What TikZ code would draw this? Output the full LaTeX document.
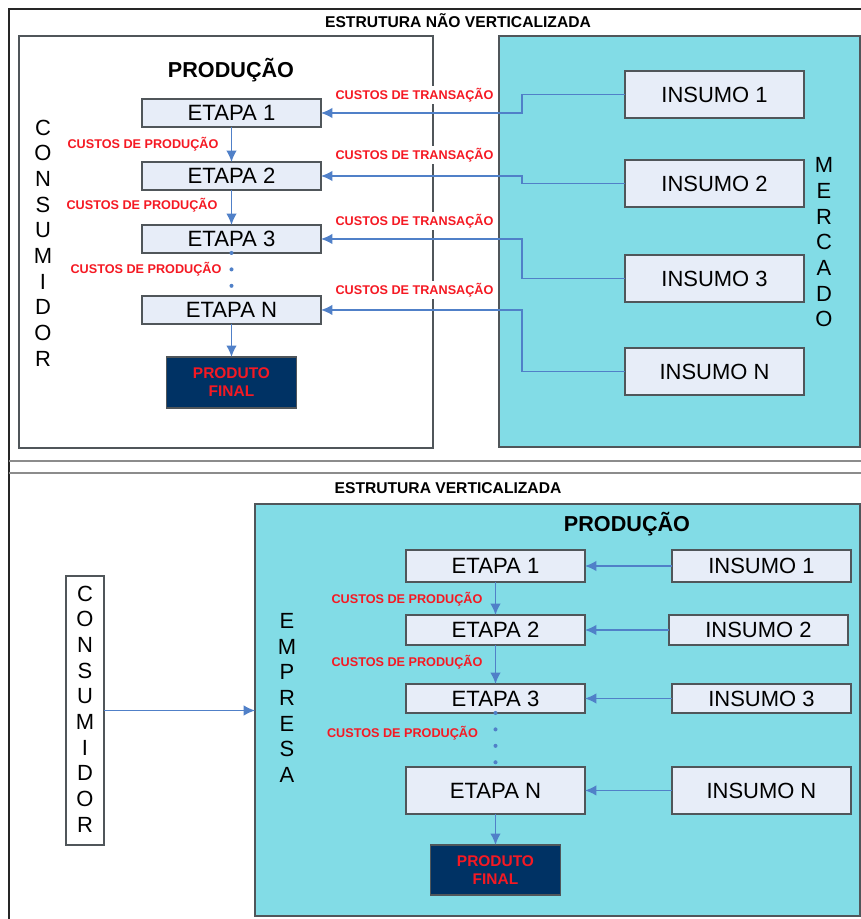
\documentclass[tikz,border=0pt]{standalone}
\usepackage{fontspec}
\setmainfont{Liberation Sans}
\usetikzlibrary{positioning,arrows.meta}
\definecolor{mktcyan}{RGB}{130,220,230}
\definecolor{stepfill}{RGB}{231,237,248}
\definecolor{stepline}{RGB}{80,86,90}
\definecolor{navyfinal}{RGB}{0,50,100}
\definecolor{costred}{RGB}{245,25,35}
\definecolor{flowblue}{RGB}{80,128,200}
\tikzset{stage node/.style={draw=stepline,fill=stepfill,line width=0.8pt,minimum width=3.58cm,minimum height=0.56cm,inner sep=0pt,outer sep=0pt,font=\fontsize{12.6}{14}\selectfont},
         input node/.style={stage node,minimum height=0.94cm,font=\fontsize{12.5}{15}\selectfont},
         final node/.style={draw=stepline,fill=navyfinal,text=costred,line width=0.8pt,align=center,minimum width=2.6cm,minimum height=1.02cm,inner sep=0pt,outer sep=0pt,font=\bfseries\fontsize{8.8}{10.4}\selectfont},
         panel node/.style={draw=stepline,line width=0.8pt,inner sep=0pt,outer sep=0pt},
         cost label/.style={text=costred,inner sep=1pt,font=\bfseries\fontsize{7.2}{9}\selectfont},
         title label/.style={font=\bfseries\fontsize{8.9}{10}\selectfont},
         head label/.style={font=\bfseries\fontsize{12.3}{14}\selectfont},
         stack label/.style={align=center,inner sep=0pt,font=\fontsize{12.5}{14.6}\selectfont},
         flow/.style={draw=flowblue,line width=0.85pt,-{Latex[length=6.5pt,width=6pt]}},
         gap dots/.style={draw=flowblue,line width=2.3pt,line cap=round,dash pattern=on 0pt off 9.35pt},}
\begin{document}
\begin{tikzpicture}[x=0.02cm,y=-0.02cm]
       \useasboundingbox (0,0) rectangle (861,919);
       % frame
       \draw[line width=1.3pt,black!85] (9,919) -- (9,9) -- (861,9);
       \draw[line width=1pt,black!45] (9,461) -- (861,461) (9,473) -- (861,473);

       % estrutura nao verticalizada
       \node[title label] (t1) at (458,21) {ESTRUTURA NÃO VERTICALIZADA};
       \node[panel node,fill=white,minimum width=8.28cm,minimum height=8.24cm] (prod) at (226,242) {};
       \node[panel node,fill=mktcyan,minimum width=7.22cm,minimum height=8.22cm] (merc) at (679.5,241.5) {};
       \node[head label] (h1) at (231,70) {PRODUÇÃO};
       \node[stack label] (cons) at (43,243) {C\\O\\N\\S\\U\\M\\I\\D\\O\\R};
       \node[stack label] (mkt) at (824,242.5) {M\\E\\R\\C\\A\\D\\O};

       \node[stage node] (et1) at (231.5,113) {ETAPA 1};
       \node[stage node] (et2) [below = 0.7cm of et1] {ETAPA 2};
       \node[stage node] (et3) [below = 0.7cm of et2] {ETAPA 3};
       \node[stage node] (etN) [below = 0.86cm of et3] {ETAPA N};
       \node[final node] (fin) [below = 0.66cm of etN] {PRODUTO\\FINAL};

       \node[input node] (in1) at (714.5,94.5) {INSUMO 1};
       \node[input node] (in2) [below = 0.84cm of in1] {INSUMO 2};
       \node[input node] (in3) [below = 0.96cm of in2] {INSUMO 3};
       \node[input node] (inN) [below = 0.92cm of in3] {INSUMO N};

       \draw[flow] (et1) -- (et2);
       \draw[flow] (et2) -- (et3);
       \draw[gap dots] (et3.south) -- (etN.north);
       \draw[flow] (etN) -- (fin);
       \foreach \a/\b in {in1/et1,in2/et2,in3/et3,inN/etN}
           \draw[flow] (\a.west) -- ++(-103,0) |- (\b.east);

       \node[cost label] (cp1) at (143,144) {CUSTOS DE PRODUÇÃO};
       \node[cost label] (cp2) at (142,205) {CUSTOS DE PRODUÇÃO};
       \node[cost label] (cp3) at (146,269) {CUSTOS DE PRODUÇÃO};
       \node[cost label,fill=white] (ct1) at (414.5,95) {CUSTOS DE TRANSAÇÃO};
       \node[cost label,fill=white] (ct2) at (414.5,155) {CUSTOS DE TRANSAÇÃO};
       \node[cost label,fill=white] (ct3) at (414.5,221) {CUSTOS DE TRANSAÇÃO};
       \node[cost label,fill=white] (ct4) at (414.5,290) {CUSTOS DE TRANSAÇÃO};

       % estrutura verticalizada
       \node[title label] (t2) at (448,488) {ESTRUTURA VERTICALIZADA};
       \node[panel node,fill=mktcyan,minimum width=12.1cm,minimum height=8.24cm] (firm) at (557.5,710) {};
       \node[head label] (h2) at (627,524) {PRODUÇÃO};
       \node[panel node,fill=white,minimum width=0.76cm,minimum height=5.38cm] (bcons) at (85,710.5) {};
       \node[stack label] (bconst) at (85,709) {C\\O\\N\\S\\U\\M\\I\\D\\O\\R};
       \node[stack label] (emp) at (287,698) {E\\M\\P\\R\\E\\S\\A};

       \node[stage node,minimum height=0.64cm] (bet1) at (495.5,566) {ETAPA 1};
       \node[stage node,minimum height=0.6cm] (bet2) [below = 0.66cm of bet1] {ETAPA 2};
       \node[stage node,minimum height=0.58cm] (bet3) [below = 0.78cm of bet2] {ETAPA 3};
       \node[stage node,minimum height=0.94cm] (betN) [below = 1.08cm of bet3] {ETAPA N};
       \node[final node,minimum height=1cm] (bfin) [below = 0.62cm of betN] {PRODUTO\\FINAL};

       \node[input node,minimum height=0.64cm] (bin1) [right = 1.74cm of bet1] {INSUMO 1};
       \node[input node,minimum height=0.6cm] (bin2) [right = 1.68cm of bet2] {INSUMO 2};
       \node[input node,minimum height=0.58cm] (bin3) [right = 1.74cm of bet3] {INSUMO 3};
       \node[input node,minimum height=0.94cm] (binN) [right = 1.74cm of betN] {INSUMO N};

       \draw[flow] (bet1) -- (bet2);
       \draw[flow] (bet2) -- (bet3);
       \draw[gap dots] (bet3.south) -- (betN.north);
       \draw[flow] (betN) -- (bfin);
       \foreach \a/\b in {bin1/bet1,bin2/bet2,bin3/bet3,binN/betN}
           \draw[flow] (\a) -- (\b);
       \draw[flow] (bcons.east) -- (bcons.east -| firm.west);

       \node[cost label] (bcp1) at (407,599) {CUSTOS DE PRODUÇÃO};
       \node[cost label] (bcp2) at (407,662) {CUSTOS DE PRODUÇÃO};
       \node[cost label] (bcp3) at (402.5,733) {CUSTOS DE PRODUÇÃO};
\end{tikzpicture}
\end{document}
